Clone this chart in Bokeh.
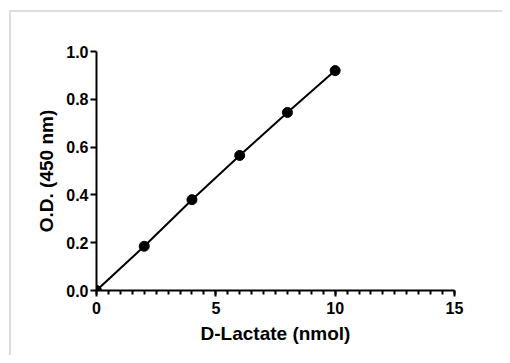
from bokeh.plotting import figure
from bokeh.models import Range1d, SingleIntervalTicker, NumeralTickFormatter
from bokeh.embed import file_html
from bokeh.resources import INLINE

lactate_nmol = [0, 2, 4, 6, 8, 10]
od_450 = [0.0, 0.185, 0.38, 0.565, 0.745, 0.92]
x_title = "D-Lactate (nmol)"
y_title = "O.D. (450 nm)"

FONT = "Liberation Sans"

p = figure(width=502, height=355, output_backend="svg", toolbar_location=None,
           x_range=Range1d(0, 15.0), y_range=Range1d(0, 1.0),
           min_border_left=96, min_border_right=48, min_border_top=51, min_border_bottom=65)

# light grey page frame (top and left edges) painted behind a transparent canvas border
p.styles = {
    "background": "linear-gradient(#dddddd, #dddddd) 9px 10px / 2px 100% no-repeat, "
                  "linear-gradient(#dddddd, #dddddd) 9px 10px / 100% 2px no-repeat, white",
}

p.line(lactate_nmol, od_450, line_color="black", line_width=2)
p.scatter(lactate_nmol, od_450, size=10, fill_color="black", line_color="black")

p.grid.visible = False
p.outline_line_color = None
p.background_fill_color = "white"
p.border_fill_alpha = 0

xa = p.xaxis[0]
ya = p.yaxis[0]
xa.ticker = SingleIntervalTicker(interval=5, num_minor_ticks=10)
ya.ticker = SingleIntervalTicker(interval=0.2, num_minor_ticks=0)
ya.formatter = NumeralTickFormatter(format="0.0")

for ax in (xa, ya):
    ax.axis_line_width = 2
    ax.axis_line_color = "black"
    ax.major_tick_line_width = 2
    ax.major_tick_line_color = "black"
    ax.major_tick_in = 0
    ax.major_tick_out = 6
    ax.major_label_text_font = FONT
    ax.major_label_text_font_style = "bold"
    ax.major_label_text_font_size = "16px"
    ax.major_label_text_color = "black"
    ax.axis_label_text_font = FONT
    ax.axis_label_text_font_style = "bold"
    ax.axis_label_text_font_size = "19px"
    ax.axis_label_text_color = "black"

xa.minor_tick_line_width = 2
xa.minor_tick_line_color = "black"
xa.minor_tick_in = 0
xa.minor_tick_out = 4
ya.minor_tick_line_color = None
xa.major_label_standoff = 5
ya.major_label_standoff = 2
xa.axis_label = x_title
ya.axis_label = y_title
xa.axis_label_standoff = 6
ya.axis_label_standoff = 6

open("out.html", "w").write(file_html(p, INLINE))
